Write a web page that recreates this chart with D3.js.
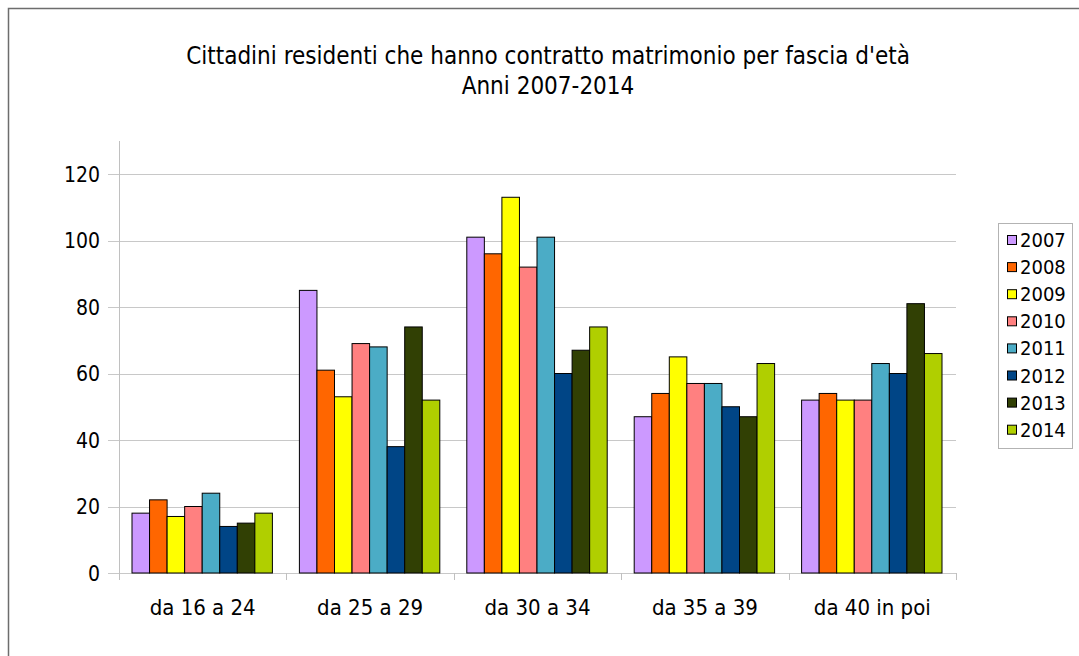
<!DOCTYPE html>
<html><head><meta charset="utf-8">
<script src="https://cdn.jsdelivr.net/npm/d3@7"></script>
<style>
html,body{margin:0;padding:0;background:#fff;}
svg{display:block;font-family:"DejaVu Sans Condensed","DejaVu Sans",sans-serif;}
</style></head>
<body>
<svg id="chart" width="1079" height="656"></svg>
<script>
const categories = ["da 16 a 24","da 25 a 29","da 30 a 34","da 35 a 39","da 40 in poi"];
const years = ["2007","2008","2009","2010","2011","2012","2013","2014"];
const colors = ["#cc99ff","#ff6600","#ffff00","#ff8080","#4bacc6","#004586","#314004","#b0cf00"];
const v2007 = [18,85,101,47,52];
const v2008 = [22,61,96,54,54];
const v2009 = [17,53,113,65,52];
const v2010 = [20,69,92,57,52];
const v2011 = [24,68,101,57,63];
const v2012 = [14,38,60,50,60];
const v2013 = [15,74,67,47,81];
const v2014 = [18,52,74,63,66];
const yTicks = [0,20,40,60,80,100,120];
const titleLines = ["Cittadini residenti che hanno contratto matrimonio per fascia d'età","Anni 2007-2014"];

(function(){
const series = [v2007,v2008,v2009,v2010,v2011,v2012,v2013,v2014];
const svg = d3.select("#chart");

svg.append("rect").attr("x",8.5).attr("y",8.5).attr("width",1200).attr("height",800)
  .attr("fill","none").attr("stroke","#6d6d6d").attr("stroke-width",1.5);

const pL = 119, pR = 956, pT = 141, pB = 573;
const y = d3.scaleLinear().domain([0,120]).range([pB,174]);
const x0 = d3.scaleBand().domain(categories).range([pL,pR]).paddingInner(0).paddingOuter(0);
const x1 = d3.scaleBand().domain(years).range([13, x0.bandwidth()-14]);

svg.append("g").selectAll("line").data(yTicks).join("line")
  .attr("x1",108).attr("x2",pR).attr("y1",d=>Math.round(y(d))+0.5).attr("y2",d=>Math.round(y(d))+0.5)
  .attr("stroke","#c8c8c8").attr("stroke-width",1);

svg.append("line").attr("x1",pL+0.5).attr("x2",pL+0.5).attr("y1",pT).attr("y2",pB+7)
  .attr("stroke","#c0c0c0");

svg.append("g").selectAll("line").data(d3.range(categories.length+1)).join("line")
  .attr("x1",i=>Math.round(pL + i*x0.bandwidth())+0.5).attr("x2",i=>Math.round(pL + i*x0.bandwidth())+0.5)
  .attr("y1",pB).attr("y2",pB+7).attr("stroke","#c0c0c0");

svg.append("g").selectAll("text").data(yTicks).join("text")
  .attr("x",100).attr("y",d=>y(d)+7.5).attr("text-anchor","end")
  .attr("font-size",21).attr("fill","#000").text(d=>d);

const g = svg.append("g");
categories.forEach((c,ci)=>{
  years.forEach((yr,si)=>{
    const val = series[si][ci];
    g.append("rect")
      .attr("x",x0(c)+x1(yr)).attr("width",x1.bandwidth())
      .attr("y",y(val)).attr("height",y(0)-y(val))
      .attr("fill",colors[si]).attr("stroke","#000").attr("stroke-width",1);
  });
});

svg.append("g").selectAll("text").data(categories).join("text")
  .attr("x",d=>x0(d)+x0.bandwidth()/2).attr("y",615).attr("text-anchor","middle")
  .attr("font-size",22).attr("fill","#000").text(d=>d);

svg.append("g").selectAll("text").data(titleLines).join("text")
  .attr("x",548).attr("y",(d,i)=>64+i*30).attr("text-anchor","middle")
  .attr("font-size",24).attr("fill","#000").text(d=>d);

svg.append("rect").attr("x",998.5).attr("y",223.5).attr("width",74).attr("height",225)
  .attr("fill","#fff").attr("stroke","#b3b3b3");
const lg = svg.append("g").selectAll("g").data(years).join("g")
  .attr("transform",(d,i)=>`translate(0,${240+i*27.1})`);
lg.append("rect").attr("x",1007.5).attr("y",-4.5).attr("width",9).attr("height",9)
  .attr("fill",(d,i)=>colors[i]).attr("stroke","#000");
lg.append("text").attr("x",1020).attr("y",7).attr("font-size",20).attr("fill","#000").text(d=>d);
})();
</script>
</body></html>
